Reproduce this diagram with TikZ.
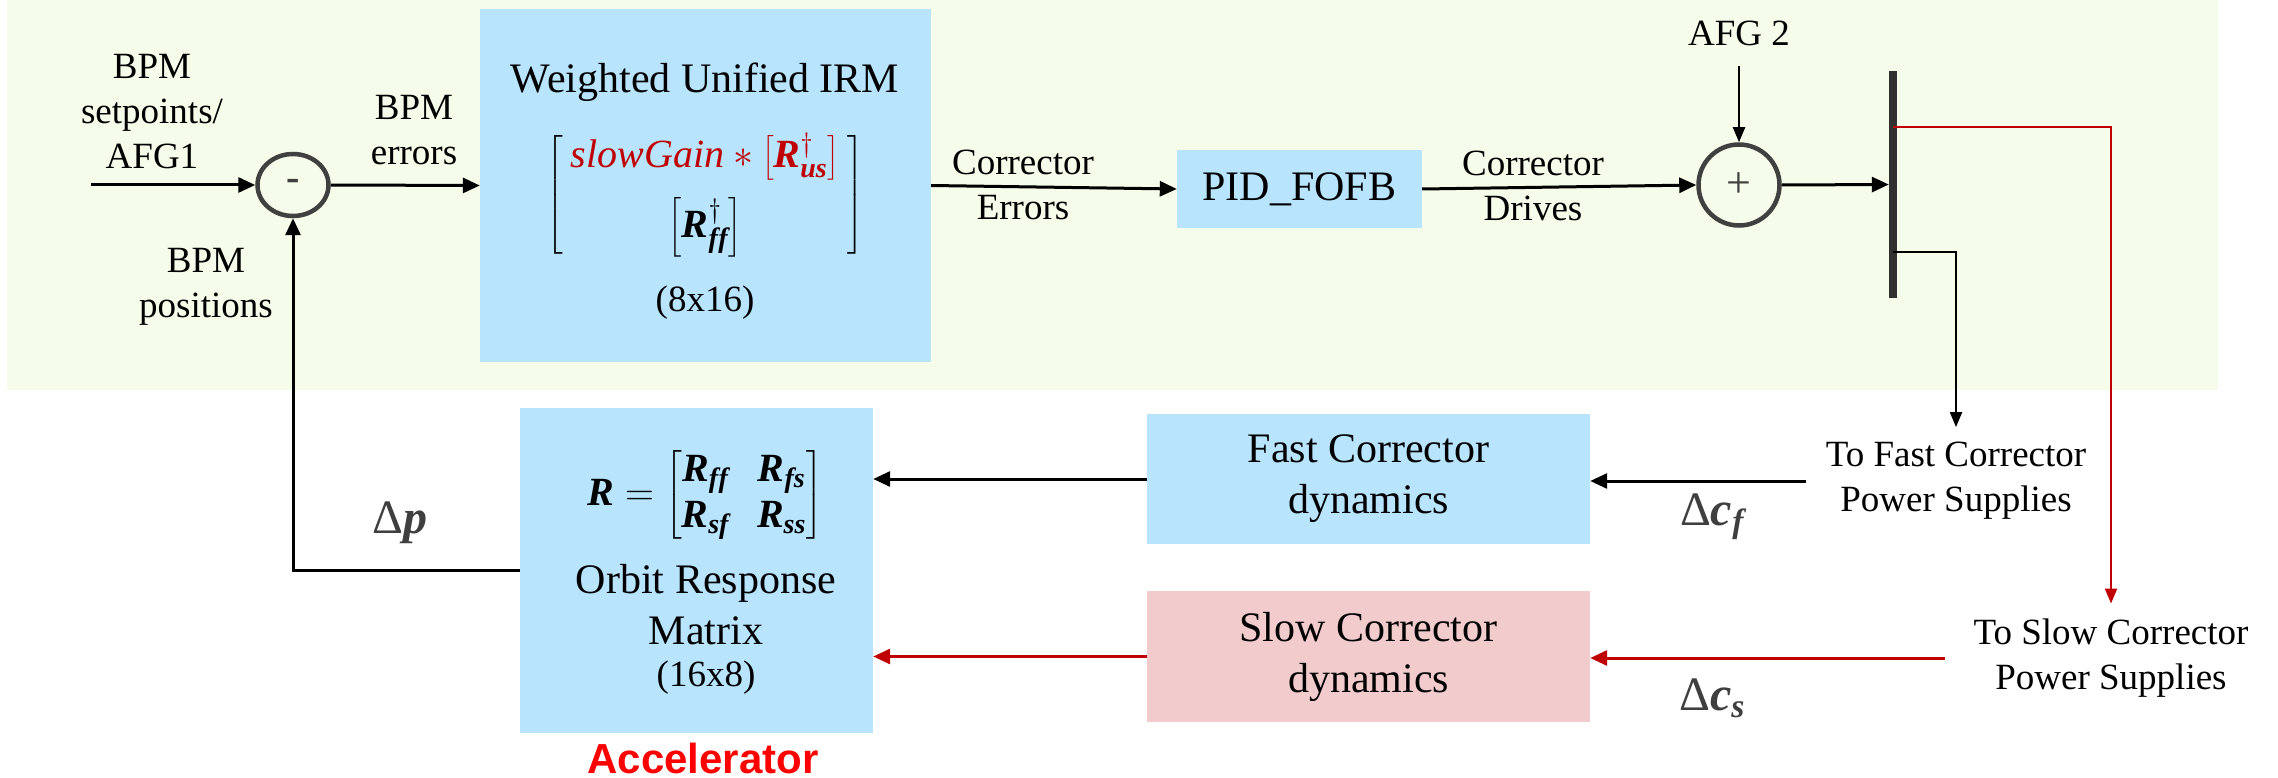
\documentclass[tikz,border=0pt]{standalone}
\usepackage{fix-cm}
\usepackage{amsmath}
\usepackage{fontspec}
\setmainfont{Liberation Serif}
\newfontfamily\accfont{Liberation Sans}
\usetikzlibrary{arrows.meta,shapes.geometric}
\definecolor{bgzone}{HTML}{F5FCE9}
\definecolor{boxblue}{HTML}{B8E4FD}
\definecolor{boxpink}{HTML}{F2CBCD}
\definecolor{sigred}{HTML}{C00000}
\definecolor{ringgray}{HTML}{404040}
\definecolor{deltagray}{HTML}{3F3F3F}
\definecolor{barcol}{HTML}{303030}
% bold italic symbol set in the text font
\newcommand{\bivec}[1]{\text{\bfseries\itshape #1}}
% two separate f's, no ligature
\newcommand{\twof}{f\kern0.5pt f}
\begin{document}
\begin{tikzpicture}[x=1pt,y=-1pt,
  blk/.style={fill=boxblue, draw=none, inner sep=0pt, align=center},
  lbl/.style={align=center, font=\fontsize{37}{45}\selectfont, inner sep=0pt},
  ttl/.style={align=center, font=\fontsize{42}{51}\selectfont},
  mth/.style={font=\fontsize{40}{46}\selectfont, inner sep=0pt},
  delta/.style={font=\fontsize{48}{55}\selectfont, text=deltagray, inner sep=0pt},
  supply/.style={lbl, inner ysep=15pt},
  ring/.style={draw=ringgray, line width=4.5pt, inner sep=0pt, text=ringgray},
  sig/.style={line width=3pt, -{Triangle[length=17pt,width=15pt]}},
  thinsig/.style={line width=2pt, -{Triangle[length=15pt,width=12pt]}},
  redsig/.style={line width=3pt, draw=sigred, -{Triangle[length=17pt,width=15pt]}},
  redthin/.style={line width=2.2pt, draw=sigred, -{Triangle[length=15pt,width=12pt]}},
]
\useasboundingbox (0,0) rectangle (2278,778);
\fill[bgzone] (7,0) rectangle (2218,390);

% controller blocks
\node[blk, minimum width=451pt, minimum height=353pt] (irm) at (705.5,185.5) {};
\node[ttl, inner sep=0pt] (irmtitle) at (705,82) {Weighted Unified IRM};
\node[mth] (irmmat) at (705,195) {$\arraycolsep=8pt\left[\begin{array}{c}
   \color{sigred}\text{\itshape slowGain}*\left[\bivec{R}^{\dagger}_{\bivec{us}}\right]\\[16pt]
   \left[\bivec{R}^{\dagger}_{\bivec{\twof}}\right]
  \end{array}\right]$};
\node[lbl] (irmdim) at (705,303) {(8x16)};

\node[blk, ttl, inner sep=0pt, minimum width=245pt, minimum height=78pt] (pid) at (1299.5,189) {PID\_FOFB};

% plant blocks
\node[blk, minimum width=353pt, minimum height=325pt] (orbit) at (696.5,570.5) {};
\node[mth] (rmat) at (705,495) {$\bivec{R}=\arraycolsep=14pt\begin{bmatrix}
   \bivec{R}_{\bivec{\twof}} & \bivec{R}_{\bivec{fs}}\\
   \bivec{R}_{\bivec{sf}} & \bivec{R}_{\bivec{ss}}
  \end{bmatrix}$};
\node[ttl, inner sep=0pt] (orbtxt) at (706,605) {Orbit Response\\Matrix};
\node[lbl] (orbdim) at (706,678) {(16x8)};
\node[inner sep=0pt, text=red, font={\fontsize{42}{50}\selectfont\accfont\bfseries}] (acc) at (703,758) {Accelerator};

\node[blk, ttl, minimum width=443pt, minimum height=130pt] (fast) at (1368.5,479) {Fast Corrector\\dynamics};
\node[blk, ttl, fill=boxpink, minimum width=443pt, minimum height=131pt] (slow) at (1368.5,656.5) {Slow Corrector\\dynamics};

% summing junctions and splitter bar
\node[ring, ellipse, minimum width=71pt, minimum height=62pt, font=\fontsize{40}{40}\selectfont\bfseries] (minus) at (293,185) {-};
\node[ring, circle, minimum size=81pt, font=\fontsize{44}{44}\selectfont] (plus) at (1739,185) {+};
\node[fill=barcol, minimum width=8pt, minimum height=227pt, inner sep=0pt] (bar) at (1893,184.5) {};
\coordinate (slowtap) at (1893,127);
\coordinate (fasttap) at (1893,252);
\coordinate (src) at (91,185);

% labels
\node[lbl] (setp) at (152,112) {BPM\\setpoints/\\AFG1};
\node[lbl] (errs) at (414,130) {BPM\\errors};
\node[lbl] (posn) at (206,287) {BPM\\positions};
\node[lbl] (cerr) at (1023,185) {Corrector\\Errors};
\node[lbl] (cdrv) at (1533,186) {Corrector\\Drives};
\node[lbl, inner ysep=20pt] (afg) at (1739,33) {AFG 2};
\node[supply, inner xsep=20pt] (tofast) at (1956,481) {To Fast Corrector\\Power Supplies};
\node[supply, inner xsep=28pt] (toslow) at (2111,658) {To Slow Corrector\\Power Supplies};
\node[delta] (dp) at (400,523) {$\text{Δ}\bivec{p}$};
\node[delta] (dcf) at (1712,517) {$\text{Δ}\bivec{c}_{\bivec{f}}$};
\node[delta] (dcs) at (1712,698) {$\text{Δ}\bivec{c}_{\bivec{s}}$};

% forward path
\draw[sig] (src) -- (minus.west);
\draw[sig] (minus.east) -- (irm.west);
\draw[sig] (irm.east) -- (pid.west);
\draw[sig] (pid.east) -- (plus.west);
\draw[thinsig] (afg.south) -- (plus.north);
\draw[sig] (plus.east) -- (bar.west);

% split to the supplies
\draw[thinsig] (fasttap) -| (tofast.north);
\draw[redthin] (slowtap) -| (toslow.north);
\draw[sig] (tofast.west) -- (tofast.west -| fast.east);
\draw[redsig] (toslow.west) -- (toslow.west -| slow.east);
\draw[sig] (fast.west) -- (fast.west -| orbit.east);
\draw[redsig] (slow.west) -- (slow.west -| orbit.east);

% feedback
\draw[sig] (orbit.west) -| (minus.south);
\end{tikzpicture}
\end{document}
